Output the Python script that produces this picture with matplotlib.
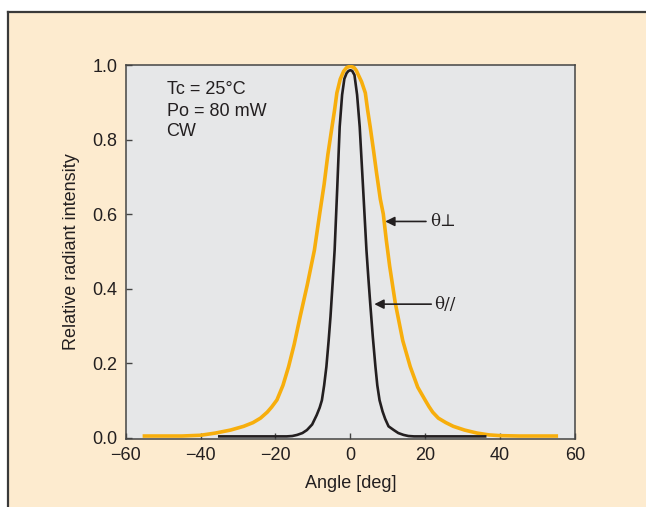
import matplotlib
matplotlib.use("Agg")
import matplotlib.pyplot as plt
from matplotlib.patches import Rectangle
from matplotlib.lines import Line2D

plt.rcParams['font.family'] = ['Liberation Sans', 'DejaVu Sans']

# angle [deg] and relative intensity
perp_angle = [-55, -45, -40, -36, -32, -28.5, -26, -24, -22.2, -21, -19.6, -18, -16.5, -15,
              -13.4, -11.5, -9.6, -8.2, -7, -6, -4.9, -4.2, -3.6, -2.7, -1.8, -1, 0,
              1, 1.6, 2.2, 3, 4, 4.6, 5.3, 6.2, 7, 8, 8.8, 9.6, 10.5, 12, 14, 16, 18, 20,
              21, 22, 23.5, 25.5, 27.5, 30.5, 33.8, 37, 40, 45, 55]
perp_val = [0.004, 0.004, 0.006, 0.012, 0.02, 0.03, 0.04, 0.052, 0.068, 0.082, 0.101, 0.14,
            0.19, 0.25, 0.325, 0.41, 0.503, 0.6, 0.68, 0.76, 0.834, 0.88, 0.925, 0.962,
            0.983, 0.993, 0.997, 0.993, 0.985, 0.972, 0.955, 0.925, 0.88, 0.834, 0.77,
            0.71, 0.64, 0.6, 0.53, 0.46, 0.361, 0.26, 0.19, 0.135, 0.1,
            0.083, 0.068, 0.052, 0.04, 0.03, 0.02, 0.012, 0.007, 0.005, 0.004, 0.004]

par_angle = [-35, -17, -15.5, -14.2, -12.8, -11.6, -10.2, -9, -8.2, -7.6, -7, -6.4, -5.8,
             -5.3, -4.7, -4.2, -3.5, -2.85, -2.2, -1.6, -1, -0.5, 0, 0.5, 1.1, 1.8, 2.5,
             3.4, 4.3, 4.8, 5.3, 6, 6.7, 7.2, 7.8, 8.6, 9.3, 10.2, 11.6, 12.8, 14.2,
             15.5, 17, 36]
par_val = [0.003, 0.003, 0.004, 0.007, 0.012, 0.02, 0.035, 0.06, 0.08, 0.1, 0.14, 0.19,
           0.26, 0.325, 0.42, 0.503, 0.67, 0.834, 0.92, 0.963, 0.978, 0.984, 0.986, 0.984,
           0.973, 0.92, 0.834, 0.67, 0.503, 0.43, 0.361, 0.27, 0.19, 0.14, 0.1, 0.07, 0.05,
           0.03, 0.02, 0.012, 0.007, 0.004, 0.003, 0.003]

xticks = [-60, -40, -20, 0, 20, 40, 60]
xticklabels = ['\u221260', '\u221240', '\u221220', '0', '20', '40', '60']
yticks = [0.0, 0.2, 0.4, 0.6, 0.8, 1.0]

beige = '#FDEBCF'
ink = '#231F20'
orange = '#F7AE0C'
fs = 13

W, H = 646, 507
fig = plt.figure(figsize=(W / 100, H / 100), dpi=100, facecolor='white')

# beige panel with a dark frame on the top and left
fig.add_artist(Rectangle((9 / W, 0), 1, 1 - 12 / H, transform=fig.transFigure,
                         facecolor=beige, edgecolor='none', zorder=-10))
fig.add_artist(Line2D([8 / W, 1], [1 - 11.5 / H, 1 - 11.5 / H], transform=fig.transFigure,
                      color='#3a3a3a', lw=1.6, zorder=-5))
fig.add_artist(Line2D([8 / W, 8 / W], [0, 1 - 11.5 / H], transform=fig.transFigure,
                      color='#3a3a3a', lw=1.6, zorder=-5))

ax = fig.add_axes([125.7 / W, 1 - 439 / H, (575 - 125.7) / W, (439 - 65) / H])
ax.set_zorder(1)
ax.set_facecolor('#E6E7E8')

ax.plot(perp_angle, perp_val, color=orange, lw=2.6, solid_joinstyle='round', zorder=3)
ax.plot(par_angle, par_val, color=ink, lw=1.9, solid_joinstyle='round', zorder=4)

ax.set_xlim(-60, 60)
ax.set_ylim(-0.004, 1.0)
ax.set_xticks(xticks)
ax.set_xticklabels(xticklabels)
ax.set_yticks(yticks)
ax.set_yticklabels(['%.1f' % v for v in yticks])
ax.tick_params(direction='in', length=4, width=1, color='#444444', labelsize=fs,
               labelcolor=ink)
ax.tick_params(axis='y', pad=6)
ax.tick_params(axis='x', pad=6)
for s in ax.spines.values():
    s.set_color('#444444')
    s.set_linewidth(1.1)

ax.set_xlabel('Angle [deg]', fontsize=fs, color=ink, labelpad=8)
ax.set_ylabel('Relative radiant intensity', fontsize=fs, color=ink, labelpad=9)

ax.text(-49.1, 0.933, 'Tc = 25\u00b0C', fontsize=fs, color=ink, va='center')
ax.text(-49.1, 0.876, 'Po = 80 mW', fontsize=fs, color=ink, va='center')
ax.text(-49.1, 0.821, 'CW', fontsize=fs, color=ink, va='center')

arrow = dict(arrowstyle='-|>', color=ink, lw=1.2, mutation_scale=14, shrinkA=0, shrinkB=0)
ax.annotate('', xy=(9.3, 0.58), xytext=(20.2, 0.58), arrowprops=arrow)
ax.text(21.2, 0.58, '\u03b8\u22a5', fontsize=12, color=ink, va='center',
        family=['DejaVu Serif', 'DejaVu Sans'])
ax.annotate('', xy=(6.4, 0.358), xytext=(21.6, 0.358), arrowprops=arrow)
ax.text(22.4, 0.358, '\u03b8//', fontsize=12, color=ink, va='center',
        family=['DejaVu Serif', 'DejaVu Sans'])

fig.savefig('out.png', dpi=100, facecolor='white')
